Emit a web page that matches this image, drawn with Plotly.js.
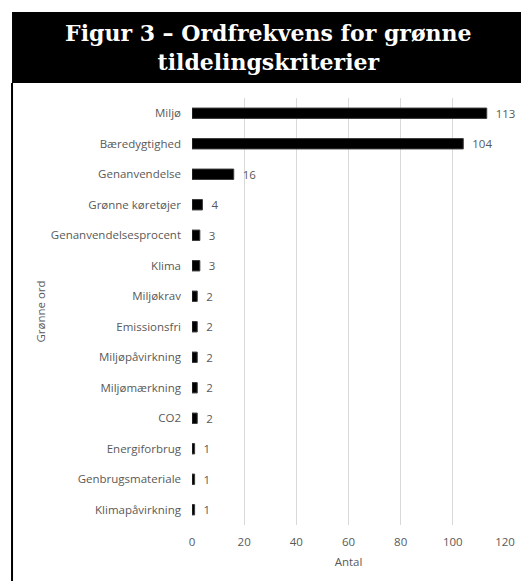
<!DOCTYPE html>
<html>
<head>
<meta charset="utf-8">
<script src="https://cdn.plot.ly/plotly-3.0.1.min.js"></script>
<style>
  body { margin: 0; background: #fff; }
  #chart { width: 521px; height: 581px; }
</style>
</head>
<body>
<div id="chart"></div>
<script>
// green words and how often they show up in the award criteria
let words = ["Miljø", "Bæredygtighed", "Genanvendelse", "Grønne køretøjer",
             "Genanvendelsesprocent", "Klima", "Miljøkrav", "Emissionsfri",
             "Miljøpåvirkning", "Miljømærkning", "CO2", "Energiforbrug",
             "Genbrugsmateriale", "Klimapåvirkning"];
let counts = [113, 104, 16, 4, 3, 3, 2, 2, 2, 2, 2, 1, 1, 1];

let xTicks = [0, 20, 40, 60, 80, 100, 120];

let grey = "#595959";
let textFont = {family: "Open Sans, Liberation Sans, sans-serif", size: 11.5, color: grey};

let trace1 = {
    x: counts,
    y: words,
    type: "bar",
    orientation: "h",
    marker: {color: "#000000", line: {color: "#3a3a3a", width: 1}},
    texttemplate: "  %{x}",
    textposition: "outside",
    constraintext: "none",
    cliponaxis: false,
    textfont: textFont,
    hoverinfo: "x+y"
};

var data = [trace1];

var layout = {
    width: 521,
    height: 581,
    margin: {l: 192, r: 16, t: 98, b: 56},
    paper_bgcolor: "#ffffff",
    plot_bgcolor: "#ffffff",
    showlegend: false,
    bargap: 0.66,
    title: {
        text: "Figur 3 – Ordfrekvens for grønne<br>tildelingskriterier",
        font: {family: "DejaVu Serif, serif", size: 22, color: "#ffffff", weight: "bold"},
        x: 0.515,
        xanchor: "center",
        y: 0.929,
        yanchor: "middle"
    },
    xaxis: {
        range: [0, 120],
        tickvals: xTicks,
        ticktext: xTicks.map(String),
        showgrid: true,
        gridcolor: "#d9d9d9",
        gridwidth: 1,
        zeroline: false,
        showline: false,
        ticks: "",
        ticklabelstandoff: 8,
        tickfont: textFont,
        title: {text: "Antal", font: textFont, standoff: 10},
        fixedrange: true
    },
    yaxis: {
        autorange: "reversed",
        showgrid: false,
        zeroline: false,
        showline: false,
        ticks: "",
        ticklabelstandoff: 10,
        tickfont: textFont,
        title: {text: "Grønne ord", font: textFont, standoff: 2},
        fixedrange: true
    },
    shapes: [
        // black banner behind the title
        {type: "rect", xref: "paper", yref: "paper",
         x0: -0.575, x1: 1.06, y0: 1.035, y1: 1.2014,
         fillcolor: "#000000", line: {width: 0}, layer: "below"},
        // thin frame line on the left
        {type: "line", xref: "paper", yref: "paper",
         x0: -0.575, x1: -0.575, y0: 1.035, y1: -0.14,
         line: {color: "#000000", width: 2}}
    ]
};

Plotly.newPlot("chart", data, layout, {displayModeBar: false, staticPlot: true});
</script>
</body>
</html>
